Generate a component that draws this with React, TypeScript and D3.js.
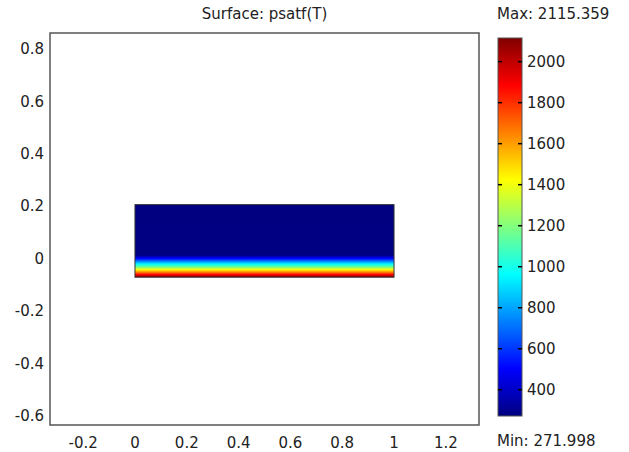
import * as d3 from "d3";
import * as React from "react";

// plot window (data units)
const xDomain = [-0.328, 1.328];
const yDomain = [-0.636, 0.86];
const xTicks = [-0.2, 0, 0.2, 0.4, 0.6, 0.8, 1, 1.2];
const yTicks = [-0.6, -0.4, -0.2, 0, 0.2, 0.4, 0.6, 0.8];

// the domain
const rectX = [0, 1];
const rectY = [-0.072, 0.205];

// psatf(T) along y
const profileY = [0.205, 0.012, 0.0, -0.011, -0.022, -0.034, -0.043, -0.053, -0.062, -0.072];
const profileValues = [272, 278, 500, 730, 960, 1190, 1420, 1650, 1880, 2115];

// colour bar
const minValue = 271.998;
const maxValue = 2115.359;
const colorTicks = [400, 600, 800, 1000, 1200, 1400, 1600, 1800, 2000];
const jet = ["#000080", "#0000ff", "#0080ff", "#00ffff", "#80ff80", "#ffff00", "#ff8000", "#ff0000", "#800000"];

const FONT = "'DejaVu Sans', Verdana, sans-serif";

export default function App() {
  const ref = React.useRef<SVGSVGElement>(null);

  React.useEffect(() => {
    const svg = d3.select(ref.current);
    svg.selectAll("*").remove();

    const frame = { left: 50, right: 479, top: 33, bottom: 425 };
    const x = d3.scaleLinear().domain(xDomain).range([frame.left, frame.right]);
    const y = d3.scaleLinear().domain(yDomain).range([frame.bottom, frame.top]);

    const jetDomain = jet.map((_, i) => minValue + (i / (jet.length - 1)) * (maxValue - minValue));
    const color = d3.scaleLinear<string>().domain(jetDomain).range(jet).clamp(true);

    const defs = svg.append("defs");

    // surface gradient
    const y1 = y(rectY[1]);
    const y2 = y(rectY[0]);
    const surf = defs
      .append("linearGradient")
      .attr("id", "surf")
      .attr("gradientUnits", "userSpaceOnUse")
      .attr("x1", 0)
      .attr("x2", 0)
      .attr("y1", y1)
      .attr("y2", y2);
    surf
      .selectAll("stop")
      .data(profileY)
      .enter()
      .append("stop")
      .attr("offset", (d) => (y(d) - y1) / (y2 - y1))
      .attr("stop-color", (d, i) => color(profileValues[i]));

    // title
    svg
      .append("text")
      .attr("x", (frame.left + frame.right) / 2)
      .attr("y", 19)
      .attr("text-anchor", "middle")
      .text("Surface: psatf(T)");

    // frame
    svg
      .append("rect")
      .attr("x", frame.left)
      .attr("y", frame.top)
      .attr("width", frame.right - frame.left)
      .attr("height", frame.bottom - frame.top)
      .attr("fill", "#fff")
      .attr("stroke", "#555")
      .attr("stroke-width", 1.5);

    // surface
    svg
      .append("rect")
      .attr("x", x(rectX[0]))
      .attr("y", y(rectY[1]))
      .attr("width", x(rectX[1]) - x(rectX[0]))
      .attr("height", y(rectY[0]) - y(rectY[1]))
      .attr("fill", "url(#surf)")
      .attr("stroke", "#333")
      .attr("stroke-width", 1);

    // tick labels (plain hyphen minus, as in the original)
    svg
      .selectAll("text.xt")
      .data(xTicks)
      .enter()
      .append("text")
      .attr("class", "xt")
      .attr("x", (d) => x(d))
      .attr("y", 448)
      .attr("text-anchor", "middle")
      .text((d) => String(d));

    svg
      .selectAll("text.yt")
      .data(yTicks)
      .enter()
      .append("text")
      .attr("class", "yt")
      .attr("x", 44)
      .attr("y", (d) => y(d))
      .attr("dy", "0.36em")
      .attr("text-anchor", "end")
      .text((d) => String(d));

    // colour bar
    const bar = { left: 498, right: 522 };
    const c = d3.scaleLinear().domain([minValue, maxValue]).range([416, 38]);
    const cb = defs
      .append("linearGradient")
      .attr("id", "cbar")
      .attr("gradientUnits", "userSpaceOnUse")
      .attr("x1", 0)
      .attr("x2", 0)
      .attr("y1", c(minValue))
      .attr("y2", c(maxValue));
    cb.selectAll("stop")
      .data(jetDomain)
      .enter()
      .append("stop")
      .attr("offset", (d) => (d - minValue) / (maxValue - minValue))
      .attr("stop-color", (d, i) => jet[i]);

    svg
      .append("rect")
      .attr("x", bar.left)
      .attr("y", c(maxValue))
      .attr("width", bar.right - bar.left)
      .attr("height", c(minValue) - c(maxValue))
      .attr("fill", "url(#cbar)")
      .attr("stroke", "#555")
      .attr("stroke-width", 1);

    const ticks = svg.selectAll("g.ct").data(colorTicks).enter().append("g").attr("class", "ct");
    ticks
      .append("line")
      .attr("x1", bar.left)
      .attr("x2", bar.left + 4)
      .attr("y1", (d) => c(d))
      .attr("y2", (d) => c(d))
      .attr("stroke", "#000")
      .attr("stroke-width", 1.5);
    ticks
      .append("line")
      .attr("x1", bar.right - 4)
      .attr("x2", bar.right)
      .attr("y1", (d) => c(d))
      .attr("y2", (d) => c(d))
      .attr("stroke", "#000")
      .attr("stroke-width", 1.5);
    ticks
      .append("text")
      .attr("x", bar.right + 5)
      .attr("y", (d) => c(d))
      .attr("dy", "0.36em")
      .text((d) => d);

    svg.append("text").attr("x", 497).attr("y", 19).text("Max: " + maxValue.toFixed(3));
    svg.append("text").attr("x", 497).attr("y", 446).text("Min: " + minValue.toFixed(3));
  }, []);

  return (
    <svg
      ref={ref}
      width={629}
      height={452}
      style={{ position: "absolute", left: 0, top: 0, background: "#fff", fontFamily: FONT, fontSize: 15, fill: "#222" }}
    />
  );
}
